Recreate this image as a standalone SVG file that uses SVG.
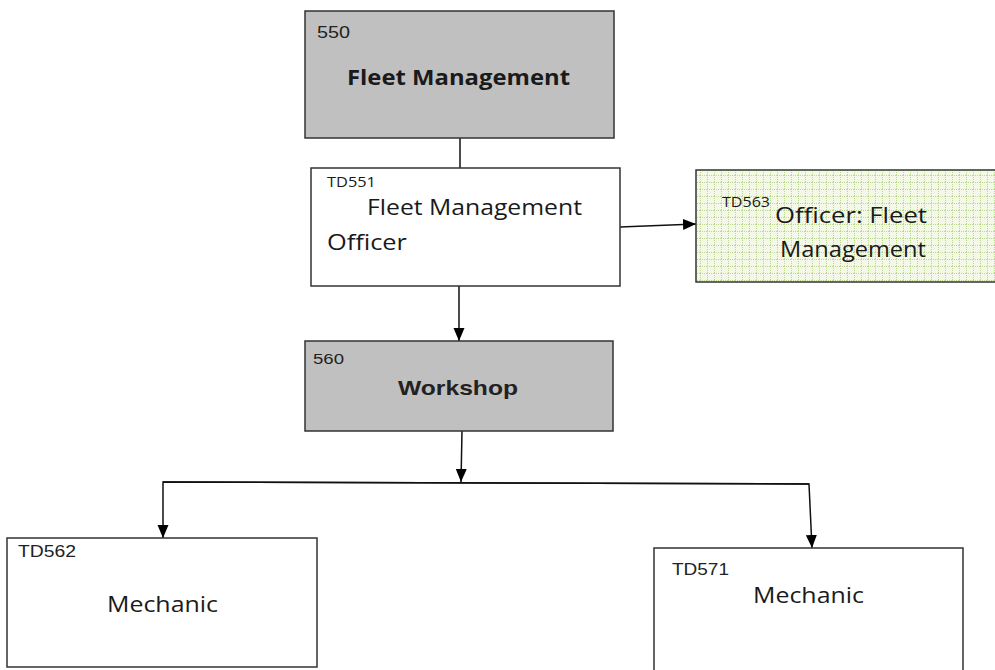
<svg xmlns="http://www.w3.org/2000/svg" width="995" height="670" viewBox="0 0 995 670">
<defs>
<style>
.box{stroke:#333;stroke-width:1.5}
.grey{fill:#c0c0c0}
.white{fill:#fff}
.code{font-family:"Liberation Sans",Arial,sans-serif;fill:#222}
.lbl{font-family:"Open Sans","Noto Sans",sans-serif;fill:#1a1a1a}
.bold{font-weight:bold}
.conn{fill:none;stroke:#111;stroke-width:1.5}
</style>
<marker id="arr" markerWidth="13" markerHeight="13" refX="13" refY="6.5" orient="auto" markerUnits="userSpaceOnUse">
<path d="M0,1 L13,6.5 L0,12 Z" fill="#000"/>
</marker>
<pattern id="grid" width="7" height="7" patternUnits="userSpaceOnUse">
<rect width="7" height="7" fill="#f3f9e6"/>
<path d="M0,0.5 H7 M0.5,0 V7" stroke="#bcd890" stroke-width="1" stroke-dasharray="1,1"/>
</pattern>
</defs>
<rect width="995" height="670" fill="#fff"/>

<g id="connectors">
<line class="conn" x1="460" y1="138" x2="460" y2="168"/>
<line class="conn" x1="620" y1="227" x2="696" y2="224" marker-end="url(#arr)"/>
<line class="conn" x1="459" y1="286" x2="459" y2="341" marker-end="url(#arr)"/>
<line class="conn" x1="462" y1="431" x2="461" y2="482" marker-end="url(#arr)"/>
<polyline class="conn" points="809,484 163,482 163,538" marker-end="url(#arr)"/>
<polyline class="conn" points="163,482 809,484 812,548" marker-end="url(#arr)"/>
</g>

<g id="n550">
<rect class="box grey" x="305" y="11" width="309" height="127"/>
<text class="code" x="317" y="38" font-size="16" textLength="33" lengthAdjust="spacingAndGlyphs">550</text>
<text class="lbl bold" x="347" y="85" font-size="22" textLength="223" lengthAdjust="spacingAndGlyphs">Fleet Management</text>
</g>

<g id="td551">
<rect class="box white" x="311" y="168" width="309" height="118"/>
<text class="lbl" x="327" y="187" font-size="15" textLength="49" lengthAdjust="spacingAndGlyphs">TD551</text>
<text class="lbl" x="367" y="215" font-size="22" textLength="215" lengthAdjust="spacingAndGlyphs">Fleet Management</text>
<text class="lbl" x="327" y="250" font-size="22" textLength="80" lengthAdjust="spacingAndGlyphs">Officer</text>
</g>

<g id="td563">
<rect class="box" x="696" y="170" width="305" height="112" fill="url(#grid)"/>
<text class="lbl" x="722" y="207" font-size="15" textLength="48" lengthAdjust="spacingAndGlyphs">TD563</text>
<text class="lbl" x="775" y="223" font-size="22" textLength="152" lengthAdjust="spacingAndGlyphs">Officer: Fleet</text>
<text class="lbl" x="780" y="257" font-size="22" textLength="146" lengthAdjust="spacingAndGlyphs">Management</text>
</g>

<g id="n560">
<rect class="box grey" x="305" y="341" width="308" height="90"/>
<text class="code" x="313" y="364" font-size="15" textLength="31" lengthAdjust="spacingAndGlyphs">560</text>
<text class="code bold" x="398" y="395" font-size="21" textLength="120" lengthAdjust="spacingAndGlyphs">Workshop</text>
</g>

<g id="td562">
<rect class="box white" x="7" y="538" width="310" height="129"/>
<text class="code" x="18" y="557" font-size="16" textLength="58" lengthAdjust="spacingAndGlyphs">TD562</text>
<text class="lbl" x="107" y="612" font-size="22" textLength="111" lengthAdjust="spacingAndGlyphs">Mechanic</text>
</g>

<g id="td571">
<rect class="box white" x="654" y="548" width="309" height="130"/>
<text class="code" x="672" y="575" font-size="16" textLength="57" lengthAdjust="spacingAndGlyphs">TD571</text>
<text class="lbl" x="753" y="603" font-size="22" textLength="111" lengthAdjust="spacingAndGlyphs">Mechanic</text>
</g>
</svg>
